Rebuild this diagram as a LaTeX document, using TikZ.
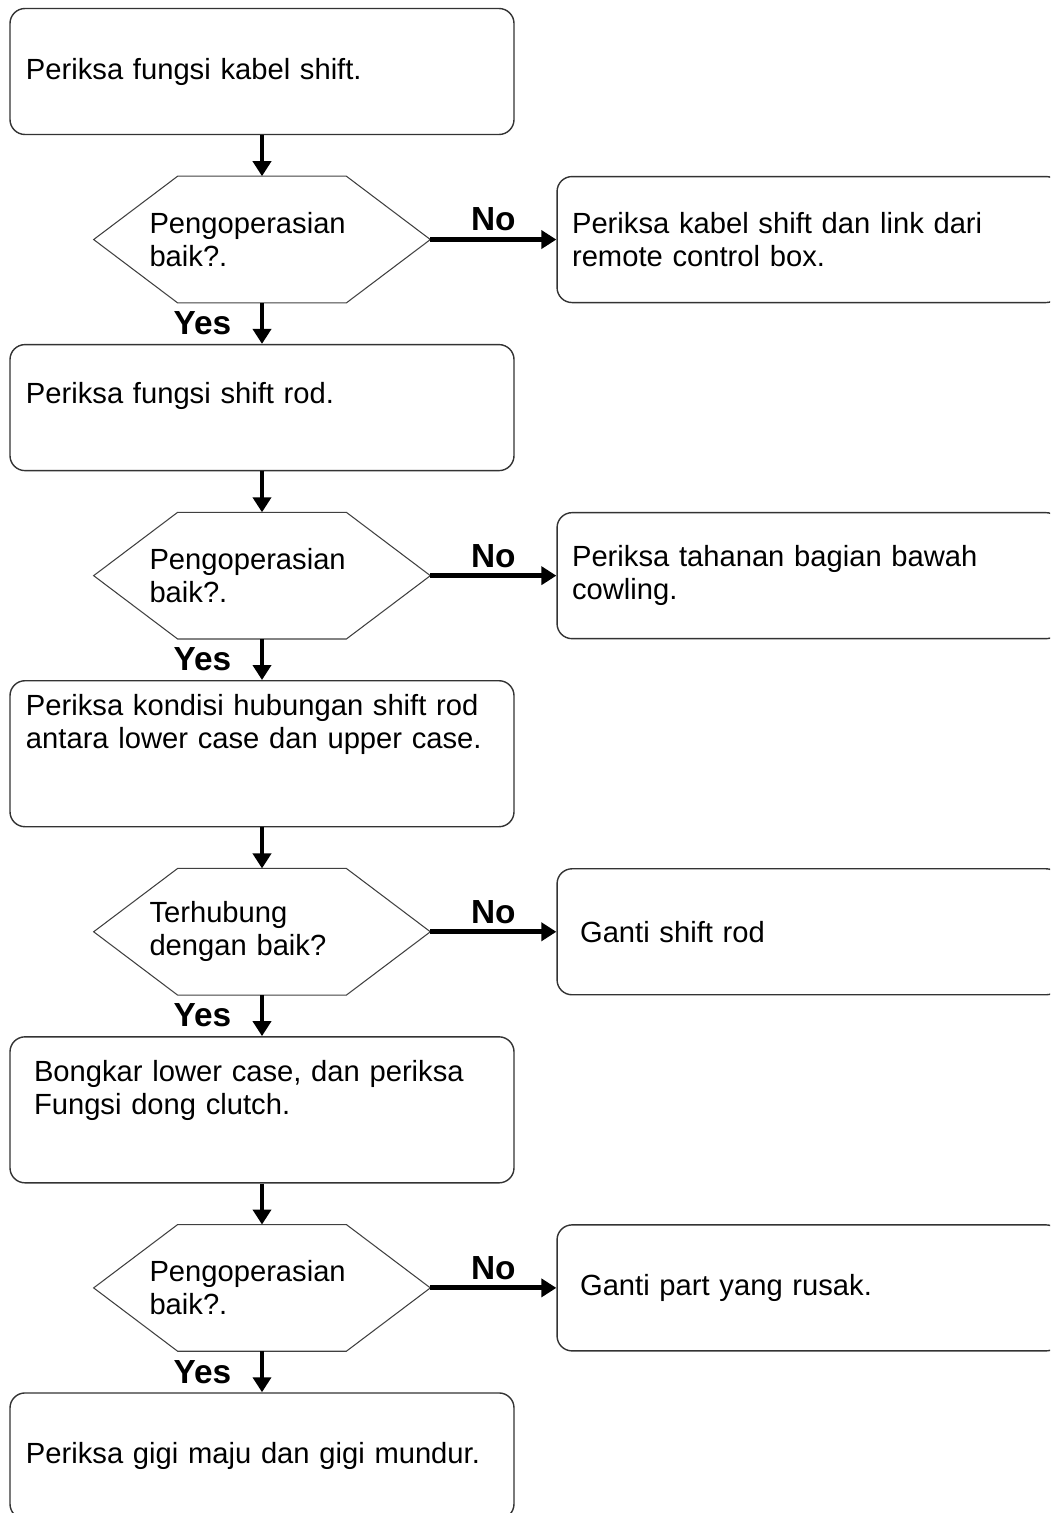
\documentclass[tikz,border=0pt]{standalone}
\usepackage{fontspec}
\setmainfont{Liberation Sans}
\usetikzlibrary{arrows.meta,positioning}
\newcommand{\lift}[1]{\rule[-#1]{0pt}{#1}}

\begin{document}
\begin{tikzpicture}[
  font=\fontsize{16.6}{18.8}\selectfont,
  node distance=0.82cm and 2.52cm,
  box/.style={draw=black!80, line width=0.8pt, rounded corners=0.3cm, align=left, text width=9.44cm, inner xsep=0.32cm, minimum height=2.52cm},
  tallbox/.style={box, minimum height=2.92cm},
  sidebox/.style={box, text width=9.48cm, inner xsep=0.3cm},
  hexa/.style={align=left, text width=4.5cm, minimum width=6.72cm, minimum height=2.52cm, inner sep=0pt},
  arrow/.style={-{Triangle[length=0.3cm,width=0.36cm]}, line width=2.8pt},
  tag/.style={font=\fontsize{19}{21}\selectfont\bfseries}
]
\useasboundingbox (0,0) rectangle (21,-30.26);
\clip (0,0) rectangle (21,-30.26);

\node[box] (chk1) at (5.24,-1.43) {Periksa fungsi kabel shift.};
\node[hexa, below=of chk1] (ask1) {Pengoperasian\\baik?.};
\node[sidebox, right=of ask1] (fix1) {Periksa kabel shift dan link dari\\remote control box.};
\node[box, below=of ask1] (chk2) {Periksa fungsi shift rod.\lift{0.6cm}};
\node[hexa, below=of chk2] (ask2) {Pengoperasian\\baik?.};
\node[sidebox, right=of ask2] (fix2) {Periksa tahanan bagian bawah\\cowling.};
\node[tallbox, below=of ask2] (chk3) {Periksa kondisi hubungan shift rod\\antara lower case dan upper case.\lift{1.28cm}};
\node[hexa, below=of chk3] (ask3) {Terhubung\\dengan baik?};
\node[sidebox, right=of ask3] (fix3) {\hspace*{0.16cm}Ganti shift rod};
\node[tallbox, below=of ask3] (chk4) {\hspace*{0.16cm}Bongkar lower case, dan periksa\\\hspace*{0.16cm}Fungsi dong clutch.\lift{0.9cm}};
\node[hexa, below=of chk4] (ask4) {Pengoperasian\\baik?.};
\node[sidebox, right=of ask4] (fix4) {\hspace*{0.16cm}Ganti part yang rusak.};
\node[box, below=of ask4] (chk5) {Periksa gigi maju dan gigi mundur.};

% decision outlines
\foreach \h in {ask1,ask2,ask3,ask4}
  \draw[black!75, line width=0.6pt] (\h.west) -- ([xshift=1.68cm]\h.north west) -- ([xshift=-1.68cm]\h.north east) -- (\h.east) -- ([xshift=-1.68cm]\h.south east) -- ([xshift=1.68cm]\h.south west) -- cycle;

\foreach \i/\j in {1/2,2/3,3/4,4/5} {
  \draw[arrow] (chk\i) -- (ask\i);
  \draw[arrow] (ask\i) -- node[tag, above] (no\i) {No} (fix\i);
  \draw[arrow] (ask\i) -- node[tag, left=0.45cm] (yes\i) {Yes} (chk\j);
}
\end{tikzpicture}
\end{document}
